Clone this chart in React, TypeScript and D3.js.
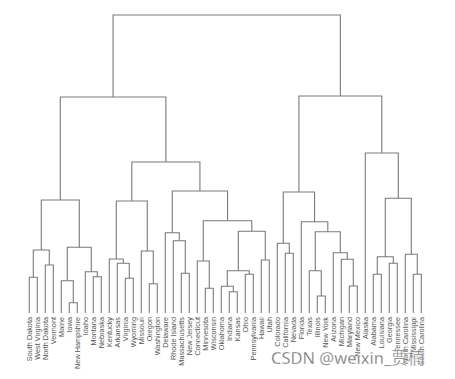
import React from "react";
import * as d3 from "d3";

// Leaf labels in display order
const states: string[] = [
  "South Dakota", "West Virginia", "North Dakota", "Vermont", "Maine", "Iowa",
  "New Hampshire", "Idaho", "Montana", "Nebraska", "Kentucky", "Arkansas",
  "Virginia", "Wyoming", "Missouri", "Oregon", "Washington", "Delaware",
  "Rhode Island", "Massachusetts", "New Jersey", "Connecticut", "Minnesota",
  "Wisconsin", "Oklahoma", "Indiana", "Kansas", "Ohio", "Pennsylvania", "Hawaii",
  "Utah", "Colorado", "California", "Nevada", "Florida", "Texas", "Illinois",
  "New York", "Arizona", "Michigan", "Maryland", "New Mexico", "Alaska",
  "Alabama", "Louisiana", "Georgia", "Tennessee", "North Carolina",
  "Mississippi", "South Carolina",
];

// Merge table (R hclust style): negative = leaf (1-based), positive = merge row (1-based)
const mergeLeft: number[] = [
  -1, -3, 1, -6, -5, -9, -8, 5, 3,
  -13, -12, -11, -16, -15, 12,
  -20, -19, -18, -23, -22, -26, -25, -28, 22, -30, 24, 20, 18, 15, 9,
  -33, -32, -37, -36, -41, -40, -39, 34, -35, 32,
  -44, -46, 41, -49, -48, 43, -43, 40, 30,
];
const mergeRight: number[] = [
  -2, -4, 2, -7, 4, -10, 6, 7, 8,
  -14, 10, 11, -17, 13, 14,
  -21, 16, 17, -24, 19, -27, 21, -29, 23, -31, 25, 26, 27, 28, 29,
  -34, 31, -38, 33, -42, 35, 36, 37, 38, 39,
  -45, -47, 42, -50, 44, 45, 46, 47, 48,
];
const mergeHeight: number[] = [
  35.7, 48, 63, 10.3, 32.3, 36.3, 41.3, 65.7, 113,
  34.7, 49.7, 54, 29.3, 62, 112,
  39.7, 72.3, 80.3, 24.7, 52, 21.3, 26.7, 38.7, 42.3, 53, 81.7, 92.3, 122, 151, 216,
  59.7, 69.7, 17, 42.3, 27, 53.7, 60.3, 81.3, 91.3, 121,
  38.7, 49.7, 56.3, 38.7, 58.7, 114.7, 160, 217, 298,
];

interface TNode { name?: string; height: number; children?: TNode[]; }

function buildTree(): TNode {
  const nodes: TNode[] = [];
  const ref = (k: number): TNode =>
    k < 0 ? { name: states[-k - 1], height: 0 } : nodes[k - 1];
  for (let i = 0; i < mergeHeight.length; i++) {
    nodes.push({ height: mergeHeight[i], children: [ref(mergeLeft[i]), ref(mergeRight[i])] });
  }
  return nodes[nodes.length - 1];
}

const W = 455, H = 379;

export default function App() {
  const root = d3.hierarchy<TNode>(buildTree());
  const x = d3.scalePoint<string>().domain(states).range([29.3, 421.3]);
  const y = d3.scaleLinear().domain([0, 298]).range([313, 15]);

  const xPos = new Map<d3.HierarchyNode<TNode>, number>();
  root.eachAfter((n) => {
    if (!n.children) xPos.set(n, x(n.data.name as string) as number);
    else xPos.set(n, d3.mean(n.children, (c) => xPos.get(c) as number) as number);
  });

  const paths: string[] = [];
  root.each((n) => {
    if (!n.children) return;
    const [a, b] = n.children;
    const yn = y(n.data.height);
    paths.push(
      `M${xPos.get(a)},${y(a.data.height)}V${yn}H${xPos.get(b)}V${y(b.data.height)}`
    );
  });

  const leaves = root.leaves();
  const lineColor = "#7a7a7a";

  return (
    <svg
      width={W}
      height={H}
      style={{ position: "absolute", left: 0, top: 0, background: "#fff" }}
      fontFamily="'Liberation Sans', Arial, sans-serif"
    >
      <g fill="none" stroke={lineColor} strokeWidth={1.1}>
        {paths.map((d, i) => (
          <path key={i} d={d} />
        ))}
      </g>
      <g fontSize={7.3} fill="#555">
        {leaves.map((l, i) => {
          const lx = xPos.get(l) as number;
          return (
            <text
              key={i}
              transform={`translate(${lx + 2.6},${317}) rotate(-90)`}
              textAnchor="end"
            >
              {l.data.name}
            </text>
          );
        })}
      </g>
      <text
        x={271}
        y={364}
        fontSize={16.5}
        fill="#6a6a6a"
        fontFamily="'Noto Sans', 'Noto Sans CJK SC', sans-serif"
        stroke="#fff"
        strokeWidth={0.3}
      >
        CSDN @weixin_贾楠
      </text>
    </svg>
  );
}
